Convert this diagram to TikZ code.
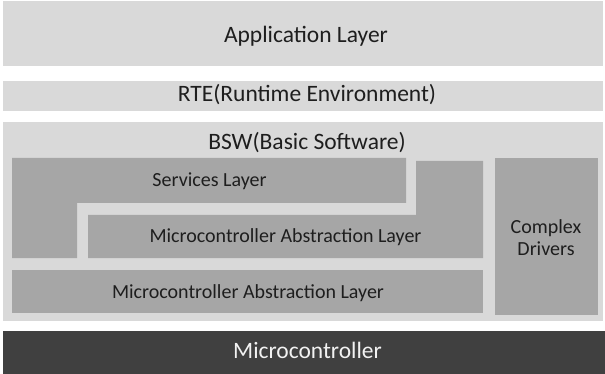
\documentclass[tikz,border=0pt]{standalone}
\usepackage{fontspec}
\setmainfont{Carlito}
\definecolor{lightband}{HTML}{D9D9D9}
\definecolor{midbox}{HTML}{A6A6A6}
\definecolor{darkband}{HTML}{404040}
\definecolor{inktext}{HTML}{1E1E1E}
\begin{document}
\begin{tikzpicture}[x=1pt,y=-1pt,
  band/.style={fill=lightband,draw=none},
  module/.style={fill=midbox,draw=none},
  bigtxt/.style={text=inktext,font=\fontsize{23.5}{28}\selectfont,inner sep=0pt,anchor=base},
  smalltxt/.style={text=inktext,font=\fontsize{20}{22}\selectfont,inner sep=0pt,anchor=base}]
  \useasboundingbox[fill=white] (0,0) rectangle (605,374);

  % top layers
  \fill[band] (3,1) rectangle (603,66);
  \node[bigtxt] (app) at (306,43) {Application Layer};
  \fill[band] (3,81) rectangle (603,111);
  \node[bigtxt] (rte) at (307,101.5) {RTE(Runtime Environment)};

  % basic software container
  \fill[band] (3,122) rectangle (603,321);
  \node[bigtxt] (bsw) at (307,150) {BSW(Basic Software)};

  % services layer (L shape)
  \fill[module] (12,158) -- (406,158) -- (406,203) -- (77,203) -- (77,258) -- (12,258) -- cycle;
  \node[smalltxt] (srv) at (209.5,187) {Services Layer};

  % middle abstraction layer (L shape)
  \fill[module] (416,161) -- (483,161) -- (483,258) -- (88,258) -- (88,215) -- (416,215) -- cycle;
  \node[smalltxt] (ecual) at (285.5,242.5) {Microcontroller Abstraction Layer};

  % lower abstraction layer
  \fill[module] (12,270) rectangle (483,313);
  \node[smalltxt] (mcal) at (248,298.5) {Microcontroller Abstraction Layer};

  % complex drivers
  \fill[module] (495,158) rectangle (598,315);
  \node[smalltxt] (cdd1) at (546,233.5) {Complex};
  \node[smalltxt] (cdd2) at (546,255.5) {Drivers};

  % hardware
  \fill[darkband] (3,331) rectangle (605,374);
  \node[bigtxt,text=white!95!black] (mcu) at (307.5,358) {Microcontroller};
\end{tikzpicture}
\end{document}
